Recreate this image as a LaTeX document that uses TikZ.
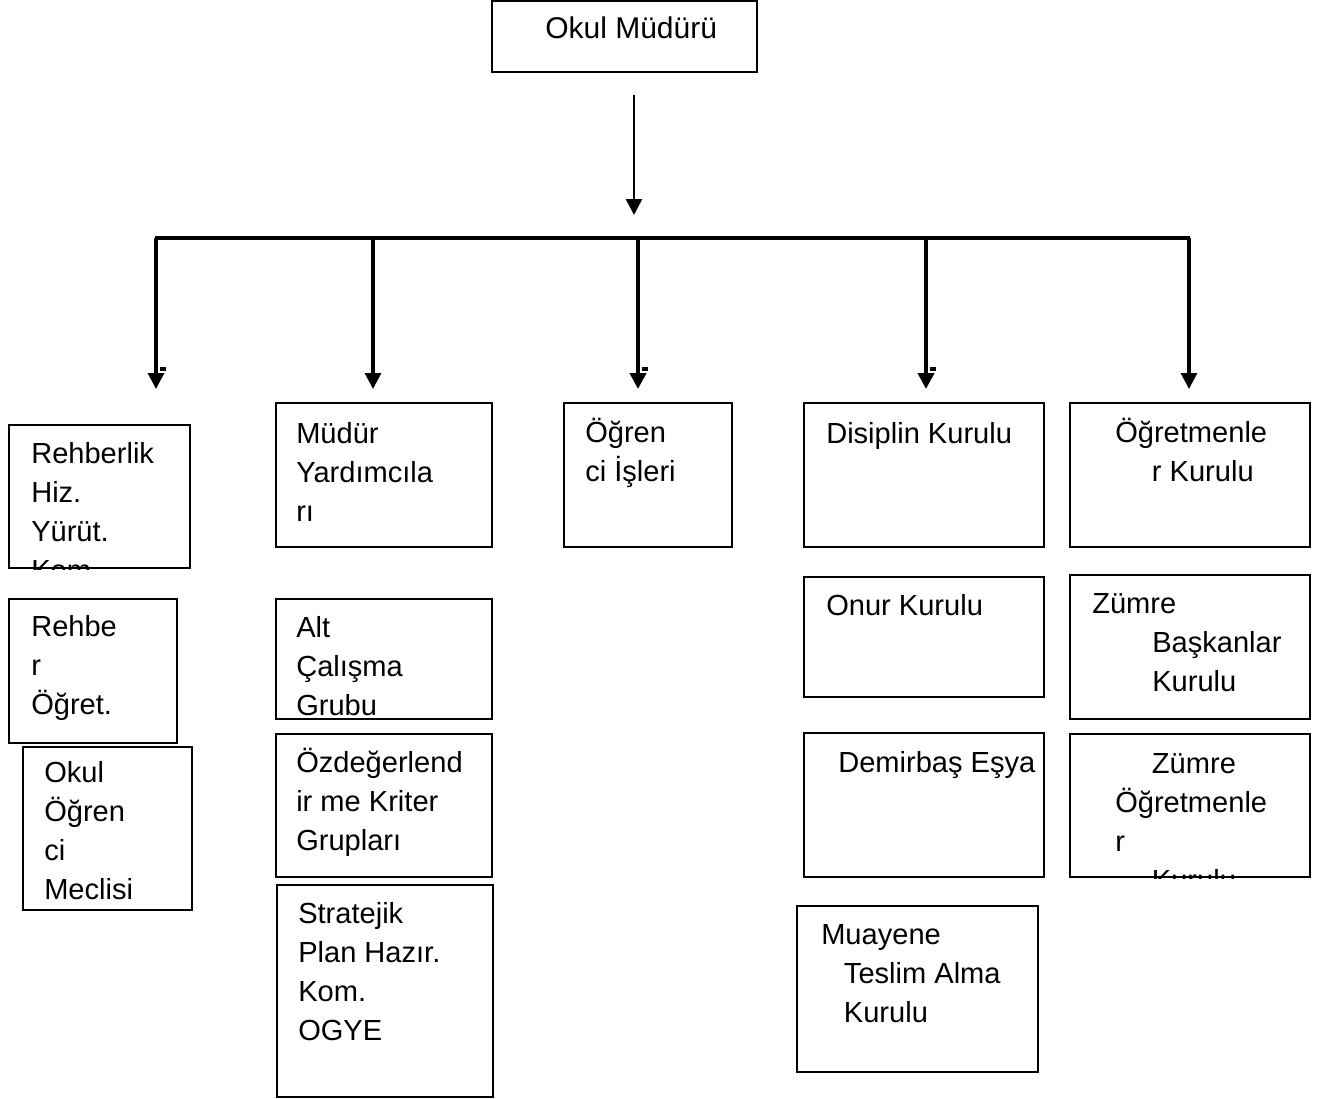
\documentclass[tikz,border=0pt]{standalone}
\usepackage{fontspec}
\setmainfont{Liberation Sans}
\usetikzlibrary{arrows.meta,fit}

\begin{document}
\begin{tikzpicture}[x=0.75pt,y=-0.75pt,
   box/.style={draw,line width=1.5pt,inner sep=0pt},
   lbl/.style={anchor=base west,align=left,inner sep=0pt,font=\fontsize{21.8}{29.25}\selectfont},
   link/.style={line width=2.3pt},
   thick link/.style={line width=3.4pt},
   arr/.style={-{Triangle[width=12pt,length=12pt]}}]
   \useasboundingbox (0,0) rectangle (1329,1099);
   % Top (text nodes sit on the baseline of their last line)
   \node[box,fit={(492,1) (757,72)}] (mudur) {};
   \node[lbl,font=\fontsize{22.5}{29.25}\selectfont] (mudurT) at (545,39) {Okul Müdürü};
   \coordinate (t1) at (634,95);
   \coordinate (t2) at (634,215);
   \draw[link,line width=2pt,arr] (t1) -- (t2);
   % Bar
   \coordinate (b1) at (156,238); \coordinate (a1) at (156,389);
   \coordinate (b2) at (373,238); \coordinate (a2) at (373,389);
   \coordinate (b3) at (638,238); \coordinate (a3) at (638,389);
   \coordinate (b4) at (926,238); \coordinate (a4) at (926,389);
   \coordinate (b5) at (1189,238); \coordinate (a5) at (1189,389);
   \draw[link] ([xshift=-1.1pt]b1) -- ([xshift=1.1pt]b5);
   \draw[link,arr] (b1) -- (a1);
   \draw[link,arr] (b2) -- (a2);
   \draw[thick link,arr] (b3) -- (a3);
   \draw[thick link,arr] (b4) -- (a4);
   \draw[link,arr] (b5) -- (a5);
   \foreach \x in {156,638,926}
     \draw[line width=2.4pt] (\x+4,369) -- (\x+10,369);
   % Left
   \node[box,fit={(9,425) (190,568)}] (rhk) {};
   \begin{scope}
     \clip (rhk.north west) rectangle (rhk.south east);
     \node[lbl] (rhkT) at (31,580) {Rehberlik\\Hiz.\\Yürüt.\\Kom.};
   \end{scope}
   \node[box,fit={(9,599) (177,743)}] (rog) {};
   \node[lbl] (rogT) at (31,714) {Rehbe\\r\\Öğret.};
   \node[box,fit={(23,747) (192,910)}] (oom) {};
   \node[lbl] (oomT) at (44,899) {Okul\\Öğren\\ci\\Meclisi};
   % Mudur yardimcilari
   \node[box,fit={(276,403) (492,547)}] (my) {};
   \node[lbl] (myT) at (296,521) {Müdür\\Yardımcıla\\rı};
   \node[box,fit={(276,599) (492,719)}] (acg) {};
   \begin{scope}
     \clip (acg.north west) rectangle (acg.south east);
     \node[lbl] (acgT) at (296,715) {Alt\\Çalışma\\Grubu};
   \end{scope}
   \node[box,fit={(276,734) (492,877)}] (okg) {};
   \node[lbl] (okgT) at (296,850) {Özdeğerlend\\ir me Kriter\\Grupları};
   \node[box,fit={(277,885) (493,1097)}] (sph) {};
   \node[lbl] (sphT) at (298,1040) {Stratejik\\Plan Hazır.\\Kom.\\OGYE};
   % Ogrenci isleri
   \node[box,fit={(564,403) (732,547)}] (oi) {};
   \node[lbl] (oiT) at (585,481) {Öğren\\ci İşleri};
   % Kurullar
   \node[box,fit={(804,403) (1044,547)}] (dk) {};
   \node[lbl] (dkT) at (826,443) {Disiplin Kurulu};
   \node[box,fit={(804,577) (1044,697)}] (ok) {};
   \node[lbl] (okT) at (826,615) {Onur Kurulu};
   \node[box,fit={(804,733) (1044,877)}] (de) {};
   \node[lbl] (deT) at (838,772) {Demirbaş Eşya};
   \node[box,fit={(797,906) (1038,1072)}] (mta) {};
   \node[lbl] (mtaT) at (821,1022) {Muayene\\\hspace*{17pt}Teslim Alma\\\hspace*{17pt}Kurulu};
   % Right
   \node[box,fit={(1070,403) (1310,547)}] (ogk) {};
   \node[lbl] (ogkT) at (1115,481) {Öğretmenle\\\hspace*{27.5pt}r Kurulu};
   \node[box,fit={(1070,575) (1310,719)}] (zbk) {};
   \node[lbl] (zbkT) at (1092,691) {Zümre\\\hspace*{45pt}Başkanlar\\\hspace*{45pt}Kurulu};
   \node[box,fit={(1070,734) (1310,877)}] (zok) {};
   \begin{scope}
     \clip (zok.north west) rectangle (zok.south east);
     \node[lbl] (zokT) at (1115,890) {\hspace*{27.5pt}Zümre\\Öğretmenle\\r\\\hspace*{27.5pt}Kurulu};
   \end{scope}
\end{tikzpicture}
\end{document}
